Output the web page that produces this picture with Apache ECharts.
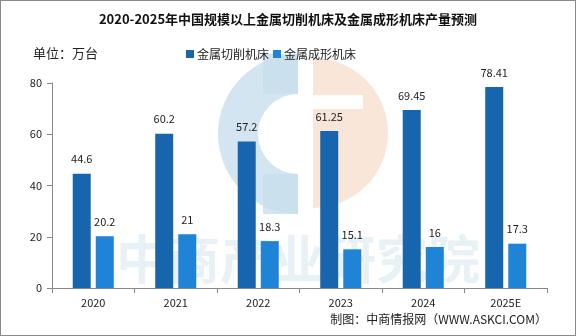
<!DOCTYPE html>
<html><head><meta charset="utf-8">
<script src="https://cdn.jsdelivr.net/npm/echarts@6/dist/echarts.min.js"></script>
<style>html,body{margin:0;padding:0;background:#fff}#c{width:576px;height:336px;box-sizing:border-box;border:1px solid #8a8a8a}</style>
</head><body><div id="c"></div>
<script>
const categories = ['2020','2021','2022','2023','2024','2025E'];
const cutting = [44.6, 60.2, 57.2, 61.25, 69.45, 78.41];
const forming = [20.2, 21, 18.3, 15.1, 16, 17.3];
const yTicks = [0, 20, 40, 60, 80];
const font = '"Noto Sans CJK SC", sans-serif';
const chart = echarts.init(document.getElementById('c'));
chart.setOption({
  animation: false,
  title: {text: '2020-2025年中国规模以上金属切削机床及金属成形机床产量预测', left: 'center', top: 7,
    textStyle: {fontSize: 13, fontWeight: 'bold', color: '#111', fontFamily: font}},
  legend: {left: 180, top: 42, itemWidth: 8, itemHeight: 8, itemGap: 4, icon: 'rect',
    textStyle: {fontSize: 12, color: '#222', fontFamily: font, padding: [0, 0, 0, -2]},
    data: ['金属切削机床','金属成形机床']},
  grid: {left: 51, right: 28, top: 82, bottom: 47},
  graphic: [
    {type: 'text', left: 32, top: 46, style: {text: '单位：万台', fontSize: 13, fill: '#222', fontFamily: font}},
    {type: 'text', right: 28, top: 312, style: {text: '制图：中商情报网（WWW.ASKCI.COM）', fontSize: 12, fill: '#222', fontFamily: font}},
    {type: 'text', left: 115, top: 232, z: -1, style: {text: '中商产业研究院', fontSize: 52, fontWeight: 'bold', fill: 'rgba(190,215,230,0.35)', fontFamily: font}},
    {type: 'sector', z: -1, shape: {cx: 297, cy: 133, r: 80, r0: 40, startAngle: Math.PI / 2, endAngle: Math.PI * 1.5}, style: {fill: 'rgba(200,222,236,0.8)'}},
    {type: 'rect', z: -1, shape: {x: 262, y: 53, width: 35, height: 40}, style: {fill: 'rgba(200,222,236,0.8)'}},
    {type: 'rect', z: -1, shape: {x: 262, y: 173, width: 35, height: 40}, style: {fill: 'rgba(200,222,236,0.8)'}},
    {type: 'sector', z: -1, shape: {cx: 312, cy: 132, r: 75, r0: 0, startAngle: -Math.PI / 2, endAngle: Math.PI / 2}, style: {fill: 'rgba(249,222,208,0.8)'}},
    {type: 'rect', z: -1, shape: {x: 312, y: 94, width: 50, height: 14}, style: {fill: '#fff'}}
  ],
  xAxis: {type: 'category', data: categories,
    axisLine: {lineStyle: {color: '#888'}}, axisTick: {show: true, length: 5, lineStyle: {color: '#888'}},
    axisLabel: {fontSize: 11, color: '#222', margin: 9, fontFamily: font}},
  yAxis: {type: 'value', min: 0, max: 80, interval: 20,
    axisLine: {show: true, lineStyle: {color: '#888'}}, axisTick: {show: true, length: 5, lineStyle: {color: '#888'}},
    splitLine: {show: false},
    axisLabel: {fontSize: 11, color: '#222', margin: 10, fontFamily: font,
      formatter: v => yTicks.includes(v) ? String(v) : ''}},
  series: [
    {name: '金属切削机床', type: 'bar', data: cutting, barWidth: 18, barGap: '28%',
     itemStyle: {color: '#1766AD'},
     label: {show: true, position: 'top', distance: 9, fontSize: 11, color: '#222', fontFamily: font}},
    {name: '金属成形机床', type: 'bar', data: forming, barWidth: 18,
     itemStyle: {color: '#1F84D6'},
     label: {show: true, position: 'top', distance: 9, fontSize: 11, color: '#222', fontFamily: font}}
  ]
});
</script></body></html>
